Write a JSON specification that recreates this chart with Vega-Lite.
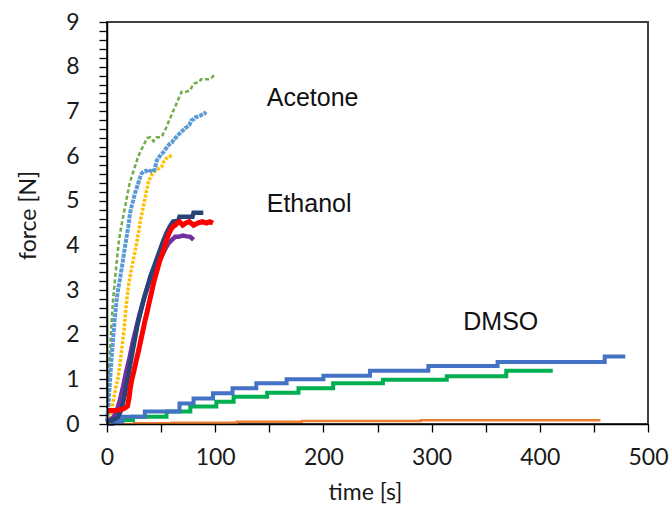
{
  "$schema": "https://vega.github.io/schema/vega-lite/v6.json",
  "width": 541,
  "height": 402,
  "autosize": {"type": "none"},
  "padding": {"left": 107, "top": 22, "right": 23, "bottom": 82},
  "background": "white",
  "config": {"view": {"stroke": "#404040", "strokeWidth": 2}},
  "datasets": {
    "curves": [
      {"s":"do","t":0,"f":0},{"s":"do","t":25,"f":0.015},{"s":"do","t":60,"f":0.03},{"s":"do","t":120,"f":0.05},{"s":"do","t":180,"f":0.065},{"s":"do","t":290,"f":0.085},{"s":"do","t":456,"f":0.085},
      {"s":"dg","t":0,"f":0.02},{"s":"dg","t":7,"f":0.09},{"s":"dg","t":24,"f":0.16},{"s":"dg","t":55,"f":0.28},{"s":"dg","t":77,"f":0.39},{"s":"dg","t":101,"f":0.5},{"s":"dg","t":117,"f":0.61},{"s":"dg","t":148,"f":0.7},{"s":"dg","t":177,"f":0.8},{"s":"dg","t":209,"f":0.91},{"s":"dg","t":255,"f":0.99},{"s":"dg","t":314,"f":1.07},{"s":"dg","t":369,"f":1.19},{"s":"dg","t":412,"f":1.19},
      {"s":"db","t":0,"f":0},{"s":"db","t":5,"f":0.05},{"s":"db","t":14,"f":0.16},{"s":"db","t":35,"f":0.28},{"s":"db","t":67,"f":0.46},{"s":"db","t":80,"f":0.57},{"s":"db","t":98,"f":0.69},{"s":"db","t":116,"f":0.8},{"s":"db","t":138,"f":0.91},{"s":"db","t":166,"f":1.0},{"s":"db","t":200,"f":1.08},{"s":"db","t":243,"f":1.19},{"s":"db","t":297,"f":1.3},{"s":"db","t":361,"f":1.39},{"s":"db","t":460,"f":1.51},{"s":"db","t":479,"f":1.51},
      {"s":"ay","t":2,"f":0},{"s":"ay","t":4,"f":0.3},{"s":"ay","t":6,"f":0.55},{"s":"ay","t":8,"f":0.8},{"s":"ay","t":10,"f":1.0},{"s":"ay","t":12,"f":1.35},{"s":"ay","t":14,"f":1.75},{"s":"ay","t":15.7,"f":2.1},{"s":"ay","t":17.5,"f":2.6},{"s":"ay","t":19.7,"f":3.07},{"s":"ay","t":21.8,"f":3.37},{"s":"ay","t":24.3,"f":3.67},{"s":"ay","t":26.8,"f":3.97},{"s":"ay","t":29,"f":4.27},{"s":"ay","t":31,"f":4.57},{"s":"ay","t":33.5,"f":4.86},{"s":"ay","t":36,"f":5.16},{"s":"ay","t":38,"f":5.39},{"s":"ay","t":39.7,"f":5.5},{"s":"ay","t":42,"f":5.6},{"s":"ay","t":44,"f":5.65},{"s":"ay","t":46,"f":5.7},{"s":"ay","t":48,"f":5.72},{"s":"ay","t":50.5,"f":5.76},{"s":"ay","t":52,"f":5.85},{"s":"ay","t":53.6,"f":5.91},{"s":"ay","t":55,"f":5.95},{"s":"ay","t":56.6,"f":5.98},{"s":"ay","t":59,"f":6.0},{"s":"ay","t":61.3,"f":6.02},
      {"s":"ag","t":0,"f":0.1},{"s":"ag","t":0.5,"f":0.5},{"s":"ag","t":1.5,"f":1.0},{"s":"ag","t":2.5,"f":1.5},{"s":"ag","t":3.5,"f":2.0},{"s":"ag","t":4.5,"f":2.4},{"s":"ag","t":5.5,"f":2.75},{"s":"ag","t":6.5,"f":3.0},{"s":"ag","t":8,"f":3.4},{"s":"ag","t":9.5,"f":3.75},{"s":"ag","t":11,"f":4.1},{"s":"ag","t":13,"f":4.4},{"s":"ag","t":15,"f":4.65},{"s":"ag","t":17,"f":4.9},{"s":"ag","t":19,"f":5.15},{"s":"ag","t":21,"f":5.4},{"s":"ag","t":23,"f":5.55},{"s":"ag","t":25,"f":5.7},{"s":"ag","t":27,"f":5.85},{"s":"ag","t":29,"f":6.0},{"s":"ag","t":31,"f":6.1},{"s":"ag","t":33,"f":6.2},{"s":"ag","t":35,"f":6.3},{"s":"ag","t":37,"f":6.4},{"s":"ag","t":40,"f":6.42},{"s":"ag","t":43,"f":6.33},{"s":"ag","t":46,"f":6.42},{"s":"ag","t":49,"f":6.42},{"s":"ag","t":51,"f":6.45},{"s":"ag","t":53,"f":6.55},{"s":"ag","t":55,"f":6.65},{"s":"ag","t":57,"f":6.77},{"s":"ag","t":59,"f":6.88},{"s":"ag","t":61,"f":7.0},{"s":"ag","t":63,"f":7.1},{"s":"ag","t":65,"f":7.22},{"s":"ag","t":67,"f":7.33},{"s":"ag","t":69,"f":7.44},{"s":"ag","t":73,"f":7.44},{"s":"ag","t":77,"f":7.47},{"s":"ag","t":79,"f":7.58},{"s":"ag","t":81,"f":7.63},{"s":"ag","t":85,"f":7.65},{"s":"ag","t":87,"f":7.72},{"s":"ag","t":95,"f":7.72},{"s":"ag","t":97,"f":7.76},{"s":"ag","t":99,"f":7.81},
      {"s":"ab","t":0,"f":0.05},{"s":"ab","t":1,"f":0.35},{"s":"ab","t":2,"f":0.7},{"s":"ab","t":3,"f":1.05},{"s":"ab","t":4,"f":1.4},{"s":"ab","t":5,"f":1.7},{"s":"ab","t":6,"f":2.0},{"s":"ab","t":7,"f":2.3},{"s":"ab","t":8,"f":2.55},{"s":"ab","t":9,"f":2.8},{"s":"ab","t":10.5,"f":3.05},{"s":"ab","t":12,"f":3.25},{"s":"ab","t":14,"f":3.55},{"s":"ab","t":15.7,"f":3.82},{"s":"ab","t":17.6,"f":4.12},{"s":"ab","t":19.7,"f":4.42},{"s":"ab","t":21.3,"f":4.72},{"s":"ab","t":23,"f":4.9},{"s":"ab","t":24.3,"f":5.01},{"s":"ab","t":25.5,"f":5.13},{"s":"ab","t":26.8,"f":5.24},{"s":"ab","t":28.3,"f":5.35},{"s":"ab","t":29.8,"f":5.46},{"s":"ab","t":31,"f":5.55},{"s":"ab","t":32,"f":5.61},{"s":"ab","t":34,"f":5.65},{"s":"ab","t":36,"f":5.67},{"s":"ab","t":38,"f":5.64},{"s":"ab","t":40,"f":5.67},{"s":"ab","t":42,"f":5.64},{"s":"ab","t":44,"f":5.7},{"s":"ab","t":45,"f":5.8},{"s":"ab","t":46,"f":5.9},{"s":"ab","t":48,"f":5.97},{"s":"ab","t":50,"f":6.04},{"s":"ab","t":52,"f":6.08},{"s":"ab","t":54,"f":6.15},{"s":"ab","t":56,"f":6.22},{"s":"ab","t":58,"f":6.27},{"s":"ab","t":60,"f":6.3},{"s":"ab","t":62,"f":6.38},{"s":"ab","t":64,"f":6.42},{"s":"ab","t":66,"f":6.48},{"s":"ab","t":68,"f":6.52},{"s":"ab","t":70,"f":6.57},{"s":"ab","t":72,"f":6.62},{"s":"ab","t":74,"f":6.65},{"s":"ab","t":76,"f":6.69},{"s":"ab","t":78,"f":6.8},{"s":"ab","t":80,"f":6.82},{"s":"ab","t":82,"f":6.87},{"s":"ab","t":84,"f":6.88},{"s":"ab","t":86,"f":6.9},{"s":"ab","t":88,"f":6.93},{"s":"ab","t":90,"f":6.95},{"s":"ab","t":91.5,"f":6.99},
      {"s":"ep","t":0,"f":0.05},{"s":"ep","t":3,"f":0.1},{"s":"ep","t":6,"f":0.15},{"s":"ep","t":9,"f":0.3},{"s":"ep","t":12,"f":0.54},{"s":"ep","t":15,"f":0.85},{"s":"ep","t":18,"f":1.2},{"s":"ep","t":21,"f":1.5},{"s":"ep","t":24,"f":1.85},{"s":"ep","t":27,"f":2.15},{"s":"ep","t":30,"f":2.45},{"s":"ep","t":33,"f":2.7},{"s":"ep","t":36,"f":2.95},{"s":"ep","t":39.7,"f":3.22},{"s":"ep","t":43,"f":3.4},{"s":"ep","t":46,"f":3.52},{"s":"ep","t":48,"f":3.65},{"s":"ep","t":50.5,"f":3.75},{"s":"ep","t":53,"f":3.88},{"s":"ep","t":55,"f":3.97},{"s":"ep","t":57,"f":4.05},{"s":"ep","t":60,"f":4.12},{"s":"ep","t":63,"f":4.19},{"s":"ep","t":66,"f":4.19},{"s":"ep","t":70,"f":4.22},{"s":"ep","t":74,"f":4.2},{"s":"ep","t":77,"f":4.19},{"s":"ep","t":80,"f":4.12},
      {"s":"en","t":0,"f":0.05},{"s":"en","t":5,"f":0.08},{"s":"en","t":10,"f":0.15},{"s":"en","t":13,"f":0.3},{"s":"en","t":16,"f":0.6},{"s":"en","t":19,"f":1.0},{"s":"en","t":22,"f":1.4},{"s":"en","t":25,"f":1.8},{"s":"en","t":28,"f":2.2},{"s":"en","t":31,"f":2.5},{"s":"en","t":34,"f":2.8},{"s":"en","t":37,"f":3.05},{"s":"en","t":40,"f":3.3},{"s":"en","t":43,"f":3.5},{"s":"en","t":46,"f":3.7},{"s":"en","t":49,"f":3.9},{"s":"en","t":52,"f":4.1},{"s":"en","t":55,"f":4.28},{"s":"en","t":58,"f":4.42},{"s":"en","t":61,"f":4.53},{"s":"en","t":66,"f":4.55},{"s":"en","t":67,"f":4.64},{"s":"en","t":79,"f":4.64},{"s":"en","t":80,"f":4.73},{"s":"en","t":89,"f":4.73},
      {"s":"er","t":0,"f":0.3},{"s":"er","t":4,"f":0.3},{"s":"er","t":8,"f":0.3},{"s":"er","t":12,"f":0.32},{"s":"er","t":16,"f":0.35},{"s":"er","t":19,"f":0.4},{"s":"er","t":20.5,"f":0.6},{"s":"er","t":21.5,"f":0.8},{"s":"er","t":23,"f":1.0},{"s":"er","t":25,"f":1.2},{"s":"er","t":27,"f":1.42},{"s":"er","t":29,"f":1.62},{"s":"er","t":31,"f":1.85},{"s":"er","t":33,"f":2.07},{"s":"er","t":35,"f":2.3},{"s":"er","t":37,"f":2.5},{"s":"er","t":39,"f":2.72},{"s":"er","t":41,"f":2.93},{"s":"er","t":43,"f":3.15},{"s":"er","t":45,"f":3.33},{"s":"er","t":47,"f":3.5},{"s":"er","t":49,"f":3.67},{"s":"er","t":51,"f":3.8},{"s":"er","t":53,"f":3.95},{"s":"er","t":55,"f":4.12},{"s":"er","t":57,"f":4.25},{"s":"er","t":59,"f":4.35},{"s":"er","t":61,"f":4.42},{"s":"er","t":63,"f":4.45},{"s":"er","t":65,"f":4.5},{"s":"er","t":67,"f":4.53},{"s":"er","t":70,"f":4.45},{"s":"er","t":73,"f":4.5},{"s":"er","t":76,"f":4.53},{"s":"er","t":80,"f":4.45},{"s":"er","t":84,"f":4.5},{"s":"er","t":88,"f":4.53},{"s":"er","t":92,"f":4.5},{"s":"er","t":95,"f":4.53},{"s":"er","t":98,"f":4.5}
    ],
    "labels": [
      {"t": 147.6, "f": 7.12, "label": "Acetone"},
      {"t": 147.6, "f": 4.75, "label": "Ethanol"},
      {"t": 329.3, "f": 2.1, "label": "DMSO"}
    ]
  },
  "encoding": {
    "x": {"field": "t", "type": "quantitative", "scale": {"domain": [0, 500], "nice": false},
      "axis": {"orient": "bottom", "values": [0, 50, 100, 150, 200, 250, 300, 350, 400, 450, 500], "grid": false, "zindex": 1,
        "tickSize": 8,
        "encode": {"ticks": {"update": {"y": {"value": -5}, "y2": {"signal": "datum.value % 100 === 0 ? 8 : 0"}}}},
        "tickWidth": 1.3, "tickColor": "#000000", "domainColor": "#000000", "domainWidth": 1.5,
        "labelExpr": "datum.value % 100 === 0 ? format(datum.value, 'd') : ''",
        "labelFont": "Lato", "labelFontSize": 23, "labelColor": "#1a1a1a", "labelPadding": 14, "labelFlush": false, "labelOverlap": false,
        "title": "time [s]", "titleFont": "Lato", "titleFontSize": 23, "titleFontWeight": "normal", "titleColor": "#1a1a1a", "titleX": 258, "titleY": 75, "titleBaseline": "alphabetic"}},
    "y": {"field": "f", "type": "quantitative", "scale": {"domain": [0, 9], "nice": false},
      "axis": {"orient": "left", "values": [0, 0.2, 0.4, 0.6, 0.8, 1, 1.2, 1.4, 1.6, 1.8, 2, 2.2, 2.4, 2.6, 2.8, 3, 3.2, 3.4, 3.6, 3.8, 4, 4.2, 4.4, 4.6, 4.8, 5, 5.2, 5.4, 5.6, 5.8, 6, 6.2, 6.4, 6.6, 6.8, 7, 7.2, 7.4, 7.6, 7.8, 8, 8.2, 8.4, 8.6, 8.8, 9], "grid": false, "zindex": 1,
        "tickSize": 8,
        "encode": {"ticks": {"update": {"x": {"value": 6}, "x2": {"signal": "abs(datum.value - round(datum.value)) > 0.01 ? 0 : -8"}}}},
        "tickWidth": 1.3, "tickColor": "#000000", "domainColor": "#000000", "domainWidth": 1.5,
        "labelExpr": "abs(datum.value - round(datum.value)) < 0.01 ? format(round(datum.value), 'd') : ''",
        "labelFont": "Lato", "labelFontSize": 23, "labelColor": "#1a1a1a", "labelPadding": 20, "labelFlush": false, "labelOverlap": false,
        "title": "force [N]", "titleFont": "Lato", "titleFontSize": 23, "titleFontWeight": "normal", "titleColor": "#1a1a1a", "titleX": -72, "titleY": 193, "titleBaseline": "alphabetic", "titleAngle": -90}}
  },
  "layer": [
    {"data": {"name": "curves"}, "transform": [{"filter": "datum.s === 'do'"}], "mark": {"type": "line", "interpolate": "step-after", "color": "#ED7D31", "strokeWidth": 2.5}},
    {"data": {"name": "curves"}, "transform": [{"filter": "datum.s === 'dg'"}], "mark": {"type": "line", "interpolate": "step-after", "color": "#00B050", "strokeWidth": 4}},
    {"data": {"name": "curves"}, "transform": [{"filter": "datum.s === 'db'"}], "mark": {"type": "line", "interpolate": "step-after", "color": "#4472C4", "strokeWidth": 4}},
    {"data": {"name": "curves"}, "transform": [{"filter": "datum.s === 'ay'"}], "mark": {"type": "line", "color": "#FFC000", "strokeWidth": 3.5, "strokeDash": [3, 1.5], "strokeCap": "butt"}},
    {"data": {"name": "curves"}, "transform": [{"filter": "datum.s === 'ag'"}], "mark": {"type": "line", "color": "#70AD47", "strokeWidth": 2.5, "strokeDash": [4, 2.5], "strokeCap": "butt"}},
    {"data": {"name": "curves"}, "transform": [{"filter": "datum.s === 'ab'"}], "mark": {"type": "line", "color": "#5B9BD5", "strokeWidth": 4, "strokeDash": [4, 1], "strokeCap": "butt"}},
    {"data": {"name": "curves"}, "transform": [{"filter": "datum.s === 'ep'"}], "mark": {"type": "line", "color": "#7030A0", "strokeWidth": 4.5}},
    {"data": {"name": "curves"}, "transform": [{"filter": "datum.s === 'en'"}], "mark": {"type": "line", "color": "#264478", "strokeWidth": 4.5}},
    {"data": {"name": "curves"}, "transform": [{"filter": "datum.s === 'er'"}], "mark": {"type": "line", "color": "#FF0000", "strokeWidth": 5}},
    {"data": {"name": "labels"}, "mark": {"type": "text", "font": "Liberation Sans", "fontSize": 25, "align": "left", "baseline": "alphabetic", "color": "#111111"}, "encoding": {"text": {"field": "label"}}}
  ]
}
